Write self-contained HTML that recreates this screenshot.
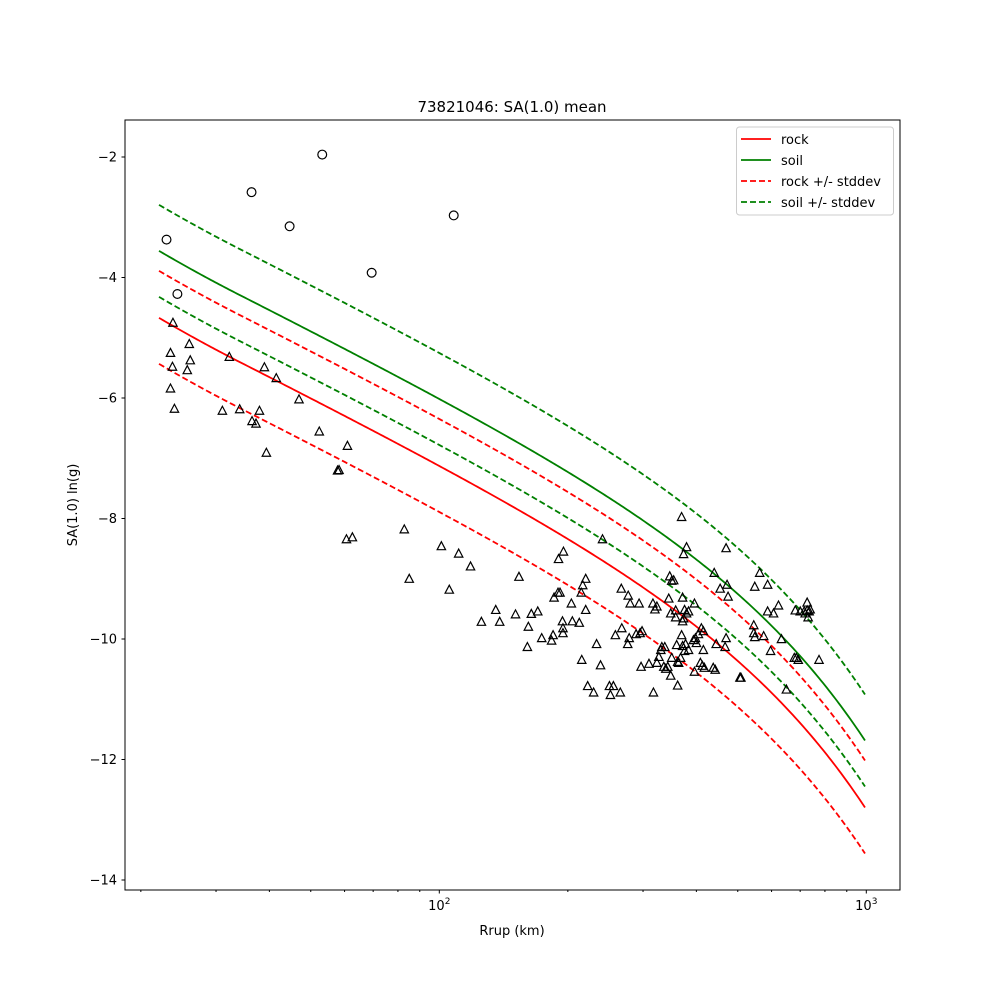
<!DOCTYPE html>
<html><head><meta charset="utf-8"><style>body{margin:0;background:#fff}svg{display:block}text{font-family:"DejaVu Sans","Liberation Sans",sans-serif;}</style></head>
<body>
<svg id="s" width="1000" height="1000" xmlns="http://www.w3.org/2000/svg">
<rect width="1000" height="1000" fill="#fff"/>
<g id="curves"></g>
<g id="pts" fill="none" stroke="#000" stroke-width="1.2"></g>
<rect x="125" y="120" width="775" height="770" fill="none" stroke="#000" stroke-width="1"/>
<g id="ticks" stroke="#000" fill="#000" font-size="13"></g>
<text x="512" y="112" font-size="15" text-anchor="middle">73821046: SA(1.0) mean</text>
<text x="512" y="935" font-size="13" text-anchor="middle">Rrup (km)</text>
<text x="0" y="0" font-size="13" text-anchor="middle" transform="translate(77,505) rotate(-90)">SA(1.0) ln(g)</text>
<g>
<rect x="736.5" y="127" width="157" height="88" rx="3" fill="#fff" fill-opacity="0.8" stroke="#ccc"/>
<line x1="741" y1="139" x2="771" y2="139" stroke="red" stroke-width="1.8"/>
<line x1="741" y1="160" x2="771" y2="160" stroke="green" stroke-width="1.8"/>
<line x1="741" y1="181" x2="771" y2="181" stroke="red" stroke-width="1.8" stroke-dasharray="6,3"/>
<line x1="741" y1="202" x2="771" y2="202" stroke="green" stroke-width="1.8" stroke-dasharray="6,3"/>
<text x="781" y="144" font-size="13">rock</text>
<text x="781" y="165" font-size="13">soil</text>
<text x="781" y="186" font-size="13">rock +/- stddev</text>
<text x="781" y="207" font-size="13">soil +/- stddev</text>
</g>
</svg>
<script>
var NS="http://www.w3.org/2000/svg",s=2.023;
function X(z){return 125+z/s}function Y(z){return 120+z/s}
function f(x){return 174+0.5*x+134*Math.exp((x-865)/132)-(x<240?(240-x)*(240-x)*0.0005:0);}
function curve(off,col,dash){var p=[];for(var x=159;x<=865;x+=2)p.push(x+","+(f(x)+off).toFixed(2));
var e=document.createElementNS(NS,"polyline");e.setAttribute("points",p.join(" "));e.setAttribute("fill","none");e.setAttribute("stroke",col);e.setAttribute("stroke-width","1.8");if(dash)e.setAttribute("stroke-dasharray","6,3");document.getElementById("curves").appendChild(e);}
curve(0,"green");curve(67,"red");curve(20,"red",1);curve(113,"red",1);curve(-46,"green",1);curve(46,"green",1);
var pg=document.getElementById("pts");
[[84,243],[106,353],[256,147],[333,216],[399,71],[499,310],[665,194]].forEach(function(q){var c=document.createElementNS(NS,"circle");c.setAttribute("cx",X(q[0]));c.setAttribute("cy",Y(q[1])-0.5);c.setAttribute("r",4.4);pg.appendChild(c);});
var T=[[97,412],[92,473],[130,455],[96,501],[132,488],[126,508],[92,545],[100,586],[211,481],[197,590],[232,587],[272,590],[257,611],[265,616],[282,502],[306,524],[352,567],[286,675],[393,632],[450,661],[430,711],[433,710],[448,850],[460,846],[565,830],[575,930],[640,864],[675,879],[699,905],[656,952],[797,926],[750,993],[721,1017],[758,1017],[790,1002],[816,1027],[822,1001],[835,996],[814,1068],[843,1050],[863,1055],[866,1044],[868,968],[876,958],[880,958],[886,1030],[886,1040],[885,1016],[887,875],[877,890],[903,980],[905,1016],[919,1019],[923,958],[926,943],[932,930],[932,993],[966,850],[954,1062],[924,1094],[962,1105],[936,1147],[948,1160],[980,1147],[982,1165],[988,1147],[1002,1160],[992,1044],[1005,1030],[1004,950],[1018,964],[1022,980],[1040,980],[1017,1062],[1020,1050],[1034,1042],[1042,1040],[1046,1036],[1044,1108],[1060,1102],[1069,1160],[1068,980],[1072,992],[1076,986],[1076,1100],[1080,1088],[1084,1074],[1086,1068],[1092,1068],[1090,1108],[1094,1112],[1098,1108],[1100,970],[1102,925],[1106,934],[1110,933],[1104,1000],[1106,1090],[1104,1126],[1114,1008],[1114,994],[1118,1098],[1116,1064],[1118,1146],[1120,1100],[1124,1090],[1126,1044],[1128,1066],[1128,968],[1128,1016],[1130,1010],[1132,993],[1136,1000],[1140,996],[1130,880],[1136,866],[1126,805],[1132,1076],[1134,1062],[1140,1074],[1150,1054],[1154,1050],[1156,1060],[1152,980],[1152,1118],[1160,1042],[1164,1100],[1166,1030],[1168,1106],[1170,1036],[1170,1074],[1172,1110],[1190,1110],[1194,1114],[1196,1062],[1192,918],[1204,950],[1216,868],[1218,942],[1220,966],[1214,1068],[1216,1050],[1244,1130],[1246,1130],[1272,1024],[1272,1040],[1274,1048],[1274,946],[1284,918],[1292,1046],[1300,942],[1300,996],[1306,1076],[1312,1000],[1322,984],[1328,1052],[1338,1154],[1354,1090],[1356,994],[1358,1090],[1362,1094],[1366,996],[1374,996],[1380,978],[1376,1000],[1380,994],[1384,996],[1386,992],[1382,1008],[1404,1094]];
T.forEach(function(q){var x=X(q[0]),y=Y(q[1])-1;var e=document.createElementNS(NS,"polygon");e.setAttribute("points",(x-4.2)+","+(y+3.6)+" "+(x+4.2)+","+(y+3.6)+" "+x+","+(y-4.4));pg.appendChild(e);});
var tg=document.getElementById("ticks"),h="";
for(var k=0;k<7;k++){var v=-2-2*k,y=157+k*120.5;h+='<line x1="121.5" y1="'+y+'" x2="125" y2="'+y+'"/><text x="117" y="'+(y+4.5)+'" text-anchor="end" stroke="none">\u2212'+(-v)+'</text>';}
function xp(r){return 439.3+427*Math.log10(r/100);}
[20,30,40,50,60,70,80,90,200,300,400,500,600,700,800,900].forEach(function(r){var x=xp(r);h+='<line x1="'+x+'" y1="890" x2="'+x+'" y2="892"/>';});
[100,1000].forEach(function(r,i){var x=xp(r);h+='<line x1="'+x+'" y1="890" x2="'+x+'" y2="893.5"/><text x="'+x+'" y="910" text-anchor="middle" stroke="none">10<tspan dy="-6" font-size="9">'+(i+2)+'</tspan></text>';});
tg.innerHTML=h;
</script>
</body></html>
